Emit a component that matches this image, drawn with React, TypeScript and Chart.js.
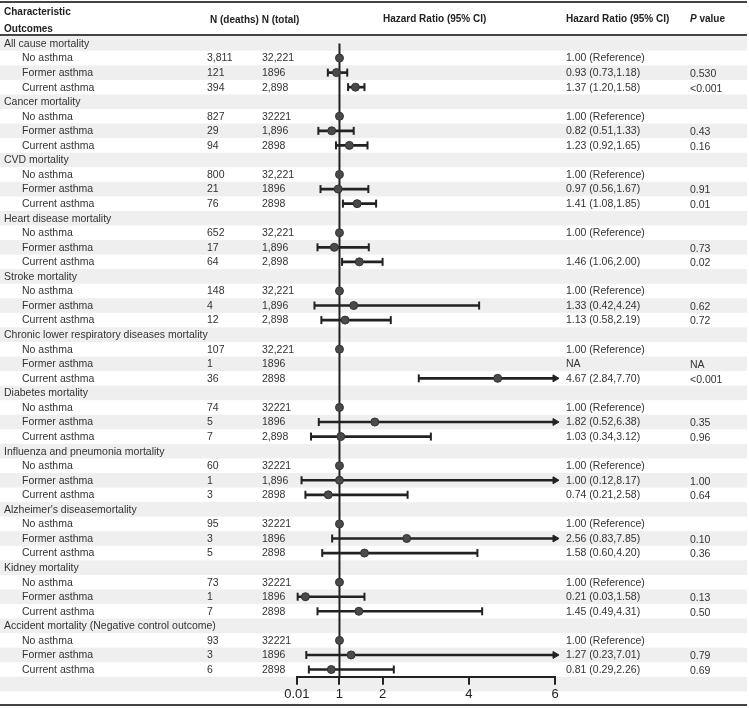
import React, { useEffect, useRef } from "react";
import { Chart, registerables } from "chart.js";
Chart.register(...registerables);

const outcomes = [
  "All cause mortality",
  "Cancer mortality",
  "CVD mortality",
  "Heart disease mortality",
  "Stroke mortality",
  "Chronic lower respiratory diseases mortality",
  "Diabetes mortality",
  "Influenza and pneumonia mortality",
  "Alzheimer's diseasemortality",
  "Kidney mortality",
  "Accident mortality (Negative control outcome)",
];
const groups = ["No asthma", "Former asthma", "Current asthma"];
const deaths = [
  ["3,811", "121", "394"], ["827", "29", "94"], ["800", "21", "76"], ["652", "17", "64"],
  ["148", "4", "12"], ["107", "1", "36"], ["74", "5", "7"], ["60", "1", "3"],
  ["95", "3", "5"], ["73", "1", "7"], ["93", "3", "6"],
];
const totals = [
  ["32,221", "1896", "2,898"], ["32221", "1,896", "2898"], ["32,221", "1896", "2898"],
  ["32,221", "1,896", "2,898"], ["32,221", "1,896", "2,898"], ["32,221", "1896", "2898"],
  ["32221", "1896", "2,898"], ["32221", "1,896", "2898"], ["32221", "1896", "2898"],
  ["32221", "1896", "2898"], ["32221", "1896", "2898"],
];
const hr = [
  [1, 0.93, 1.37], [1, 0.82, 1.23], [1, 0.97, 1.41], [1, 0.88, 1.46], [1, 1.33, 1.13],
  [1, null, 4.67], [1, 1.82, 1.03], [1, 1.0, 0.74], [1, 2.56, 1.58], [1, 0.21, 1.45], [1, 1.27, 0.81],
];
const ciLow = [
  [null, 0.73, 1.2], [null, 0.51, 0.92], [null, 0.56, 1.08], [null, 0.49, 1.06], [null, 0.42, 0.58],
  [null, null, 2.84], [null, 0.52, 0.34], [null, 0.12, 0.21], [null, 0.83, 0.6], [null, 0.03, 0.49], [null, 0.23, 0.29],
];
const ciHigh = [
  [null, 1.18, 1.58], [null, 1.33, 1.65], [null, 1.67, 1.85], [null, 1.68, 2.0], [null, 4.24, 2.19],
  [null, null, 7.7], [null, 6.38, 3.12], [null, 8.17, 2.58], [null, 7.85, 4.2], [null, 1.58, 4.31], [null, 7.01, 2.26],
];
const hrText = [
  ["1.00 (Reference)", "0.93 (0.73,1.18)", "1.37 (1.20,1.58)"],
  ["1.00 (Reference)", "0.82 (0.51,1.33)", "1.23 (0.92,1.65)"],
  ["1.00 (Reference)", "0.97 (0.56,1.67)", "1.41 (1.08,1.85)"],
  ["1.00 (Reference)", "", "1.46 (1.06,2.00)"],
  ["1.00 (Reference)", "1.33 (0.42,4.24)", "1.13 (0.58,2.19)"],
  ["1.00 (Reference)", "NA", "4.67 (2.84,7.70)"],
  ["1.00 (Reference)", "1.82 (0.52,6.38)", "1.03 (0.34,3.12)"],
  ["1.00 (Reference)", "1.00 (0.12,8.17)", "0.74 (0.21,2.58)"],
  ["1.00 (Reference)", "2.56 (0.83,7.85)", "1.58 (0.60,4.20)"],
  ["1.00 (Reference)", "0.21 (0.03,1.58)", "1.45 (0.49,4.31)"],
  ["1.00 (Reference)", "1.27 (0.23,7.01)", "0.81 (0.29,2.26)"],
];
const pValues = [
  ["", "0.530", "<0.001"], ["", "0.43", "0.16"], ["", "0.91", "0.01"], ["", "0.73", "0.02"],
  ["", "0.62", "0.72"], ["", "NA", "<0.001"], ["", "0.35", "0.96"], ["", "1.00", "0.64"],
  ["", "0.10", "0.36"], ["", "0.13", "0.50"], ["", "0.79", "0.69"],
];
const xTicks = [0.01, 1, 2, 4, 6];
const xMin = 0.01;
const xMax = 6;

const FONT = "'Liberation Sans', Arial, sans-serif";
const W = 749;
const H = 708;

export default function App() {
  const ref = useRef<HTMLCanvasElement | null>(null);

  useEffect(() => {
    document.body.style.margin = "0";
    const nRows = outcomes.length * 4;

    const points: any[] = [];
    const bars: any[] = [];
    const caps: any[] = [];
    const arrows: any[] = [];
    outcomes.forEach((_, c) => {
      groups.forEach((__, g) => {
        const row = c * 4 + 1 + g;
        const v = hr[c][g];
        if (v != null) points.push({ x: v, y: row });
        const lo = ciLow[c][g];
        const hi = ciHigh[c][g];
        if (lo != null && hi != null) {
          const hiShown = Math.min(hi, xMax);
          bars.push({ x: [lo, hiShown], y: row });
          caps.push({ x: lo, y: row });
          if (hi > xMax) arrows.push({ x: xMax, y: row });
          else caps.push({ x: hi, y: row });
        }
      });
    });

    const tablePlugin = {
      id: "forestTable",
      beforeDraw(chart: any) {
        const { ctx } = chart;
        const ys = chart.scales.y;
        ctx.save();
        ctx.fillStyle = "#ffffff";
        ctx.fillRect(0, 0, W, H);
        for (let r = 0; r <= nRows; r++) {
          if (r % 2 === 0) {
            const t = ys.getPixelForValue(r - 0.5);
            const b = ys.getPixelForValue(r + 0.5);
            ctx.fillStyle = "#efefef";
            ctx.fillRect(0, t, 747, b - t);
          }
        }
        ctx.fillStyle = "#444";
        ctx.fillRect(0, 1, 747, 2);
        ctx.fillRect(0, 34, 747, 2);
        ctx.fillRect(0, 704, 747, 2);
        ctx.restore();
      },
      afterDraw(chart: any) {
        const { ctx } = chart;
        const ys = chart.scales.y;
        ctx.save();
        ctx.textBaseline = "middle";
        ctx.textAlign = "left";
        ctx.fillStyle = "#222";
        ctx.font = `bold 10px ${FONT}`;
        ctx.fillText("Characteristic", 4, 12.5);
        ctx.fillText("Outcomes", 4, 29);
        ctx.fillText("N (deaths) N (total)", 210, 20);
        ctx.fillText("Hazard Ratio (95% CI)", 383, 19);
        ctx.fillText("Hazard Ratio (95% CI)", 566, 19);
        ctx.font = `italic bold 10px ${FONT}`;
        ctx.fillText("P", 690, 19);
        const pw = ctx.measureText("P").width;
        ctx.font = `bold 10px ${FONT}`;
        ctx.fillText(" value", 690 + pw, 19);

        ctx.font = `10.5px ${FONT}`;
        ctx.fillStyle = "#333";
        outcomes.forEach((name, c) => {
          const yc = ys.getPixelForValue(c * 4) + 0.5;
          ctx.fillText(name, 4, yc);
          groups.forEach((gname, g) => {
            const yr = ys.getPixelForValue(c * 4 + 1 + g) + 0.5;
            ctx.fillText(gname, 22, yr);
            ctx.fillText(deaths[c][g], 207, yr);
            ctx.fillText(totals[c][g], 262, yr);
            ctx.fillText(hrText[c][g], 566, yr);
            ctx.fillText(pValues[c][g], 690, yr + 1);
          });
        });
        ctx.restore();
      },
    };

    const chart = new Chart(ref.current as HTMLCanvasElement, {
      type: "scatter",
      data: {
        datasets: [
          {
            type: "scatter",
            data: points,
            pointRadius: 4,
            pointBackgroundColor: "#4a4a4a",
            pointBorderColor: "#333",
            pointBorderWidth: 1,
            clip: false,
          } as any,
          {
            type: "scatter",
            data: caps,
            pointStyle: "line",
            pointRotation: 90,
            pointRadius: 4,
            pointBorderColor: "#222",
            pointBorderWidth: 2,
            clip: false,
          } as any,
          {
            type: "scatter",
            data: arrows,
            pointStyle: "triangle",
            pointRotation: 90,
            pointRadius: 4,
            pointBackgroundColor: "#222",
            pointBorderColor: "#222",
            pointBorderWidth: 1,
            clip: false,
          } as any,
          {
            type: "bar",
            indexAxis: "y",
            data: bars,
            barThickness: 2,
            backgroundColor: "#222",
            borderWidth: 0,
            clip: false,
          } as any,
          {
            type: "line",
            data: [
              { x: 1, y: 0 },
              { x: 1, y: nRows - 0.5 },
            ],
            borderColor: "#222",
            borderWidth: 2,
            pointRadius: 0,
            clip: false,
          } as any,
        ],
      },
      options: {
        responsive: false,
        animation: false,
        events: [],
        layout: { padding: { left: 296.8, right: 194, top: 36.2, bottom: 0 } },
        plugins: { legend: { display: false }, tooltip: { enabled: false } },
        scales: {
          x: {
            type: "linear",
            min: xMin,
            max: xMax,
            offset: false,
            beginAtZero: false,
            afterBuildTicks: (s: any) => {
              s.ticks = xTicks.map((v) => ({ value: v }));
            },
            afterFit: (s: any) => {
              s.height = 31.2;
            },
            ticks: {
              autoSkip: false,
              maxRotation: 0,
              padding: 1.5,
              color: "#222",
              font: { size: 13, family: FONT },
              callback: (v: any) => String(v),
            },
            grid: {
              display: true,
              offset: false,
              drawOnChartArea: false,
              drawTicks: true,
              tickLength: 8,
              color: "#222",
              lineWidth: 2,
            },
            border: { display: true, color: "#222", width: 2 },
          },
          y: {
            type: "linear",
            reverse: true,
            offset: false,
            grid: { offset: false },
            min: -0.5,
            max: nRows - 0.5,
            display: false,
          },
        },
      } as any,
      plugins: [tablePlugin],
    });
    return () => chart.destroy();
  }, []);

  return (
    <div style={{ position: "absolute", left: 0, top: 0, width: W, height: H }}>
      <canvas ref={ref} width={W} height={H} style={{ width: W, height: H, display: "block" }} />
    </div>
  );
}
